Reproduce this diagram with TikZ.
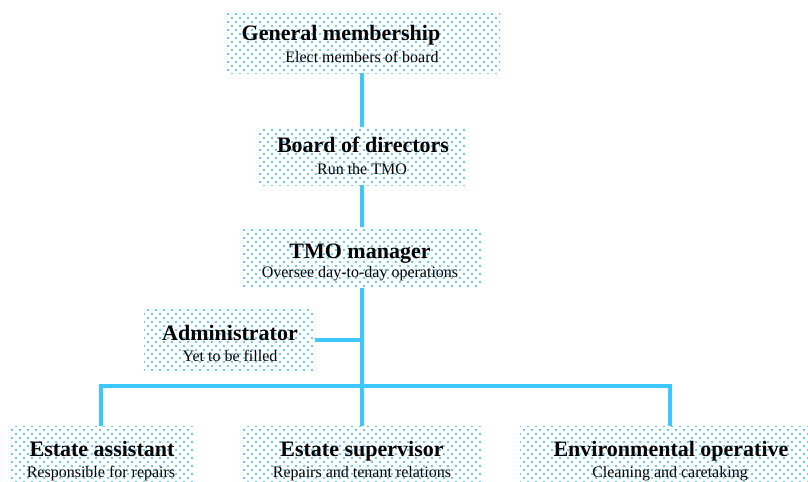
\documentclass[tikz,border=0pt]{standalone}
\usepackage{fontspec}
\setmainfont{Liberation Serif}
\usetikzlibrary{patterns}
\definecolor{linecol}{RGB}{60,200,255}
\definecolor{dotcol}{RGB}{40,185,240}
\pgfdeclarepatternformonly{bluedots}{\pgfqpoint{-1pt}{-1pt}}{\pgfqpoint{5pt}{5pt}}{\pgfqpoint{6pt}{6pt}}{%
  \pgfpathcircle{\pgfqpoint{0pt}{0pt}}{0.85pt}%
  \pgfpathcircle{\pgfqpoint{3pt}{3pt}}{0.85pt}%
  \pgfusepath{fill}}
\tikzset{
  box/.style={draw=none, pattern=bluedots, pattern color=dotcol, inner sep=0pt, outer sep=0pt},
  ttl/.style={anchor=base, inner sep=0pt, font=\fontsize{16.5}{18}\selectfont\bfseries},
  sub/.style={anchor=base, inner sep=0pt, font=\fontsize{12}{14}\selectfont},
  conn/.style={draw=linecol, line width=3pt}
}
\begin{document}
\begin{tikzpicture}[x=0.75pt, y=-0.75pt]
\clip (0,0) rectangle (808,482);
\useasboundingbox (0,0) rectangle (808,482);
% boxes
\node[box, minimum width=274*0.75pt, minimum height=61*0.75pt] (gm) at (363,42.5) {};
\node[box, minimum width=208*0.75pt, minimum height=58*0.75pt] (bd) at (362.5,156) {};
\node[box, minimum width=239*0.75pt, minimum height=61*0.75pt] (tmo) at (361.5,257.5) {};
\node[box, minimum width=171*0.75pt, minimum height=63*0.75pt] (adm) at (229.5,339.5) {};
\node[box, minimum width=184*0.75pt, minimum height=62*0.75pt] (ea) at (101,457) {};
\node[box, minimum width=240*0.75pt, minimum height=62*0.75pt] (es) at (362,457) {};
\node[box, minimum width=300*0.75pt, minimum height=62*0.75pt] (eo) at (670,457) {};
% connectors
\coordinate (bar) at (362,386);
\draw[conn] (gm.south -| 362,0) -- (bd.north -| 362,0);
\draw[conn] (bd.south -| 362,0) -- (tmo.north -| 362,0);
\draw[conn] (tmo.south -| 362,0) -- (es.north -| 362,0);
\draw[conn] (adm.east) -- (adm.east -| bar);
\draw[conn] (ea.north) |- (bar) -| (eo.north);
% texts
\node[ttl] (gmt) at (341,40) {General membership};
\node[sub] (gms) at (362,62) {Elect members of board};
\node[ttl] (bdt) at (363,152) {Board of directors};
\node[sub] (bds) at (362,174) {Run the TMO};
\node[ttl] (tmot) at (360,258) {TMO manager};
\node[sub] (tmos) at (360,277) {Oversee day-to-day operations};
\node[ttl] (admt) at (230,340) {Administrator};
\node[sub] (adms) at (230,361) {Yet to be filled};
\node[ttl] (eat) at (102,456) {Estate assistant};
\node[sub] (eas) at (101,477) {Responsible for repairs};
\node[ttl] (est) at (362,456) {Estate supervisor};
\node[sub] (ess) at (362,477) {Repairs and tenant relations};
\node[ttl] (eot) at (671,456) {Environmental operative};
\node[sub] (eos) at (670,477) {Cleaning and caretaking};
\end{tikzpicture}
\end{document}
